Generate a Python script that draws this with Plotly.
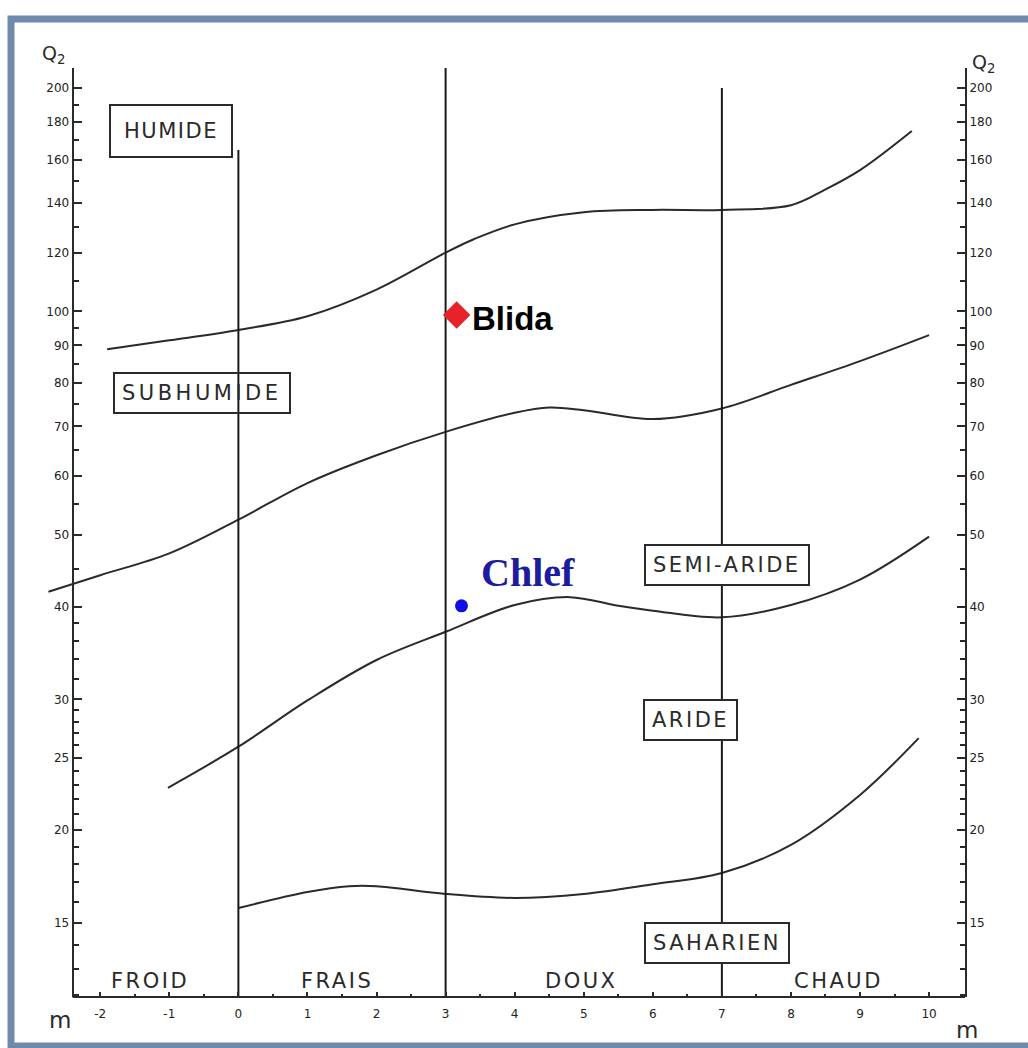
import math
import plotly.graph_objects as go

# Emberger climagram: Q2 (log scale) versus m, mean minimum of the coldest month (°C)

# bioclimatic boundary curves
humide_x = [-1.9, -1, 0, 1, 2, 3, 3.4, 4, 5, 6, 7, 8, 8.5, 9, 9.75]
humide_y = [88.9, 91.4, 94.4, 98.5, 107, 120, 125, 131, 136, 137, 137, 139, 146, 155, 175]

subhumide_x = [-2.75, -2, -1, 0, 1, 2, 3, 4, 4.5, 5, 6, 7, 8, 9, 10]
subhumide_y = [41.9, 44.1, 47.2, 52.4, 58.7, 64, 68.8, 73, 74.2, 73.6, 71.6, 74, 79.6, 85.7, 92.9]

semiaride_x = [-1.02, 0, 1, 2, 3, 4, 4.8, 5.5, 6, 7, 8, 9, 10]
semiaride_y = [22.8, 25.9, 29.9, 33.9, 37, 40.2, 41.2, 40.1, 39.5, 38.7, 40.2, 43.5, 49.7]

aride_x = [0, 1, 1.6, 2, 3, 4, 5, 6, 7, 8, 9, 9.85]
aride_y = [15.7, 16.5, 16.8, 16.8, 16.4, 16.2, 16.4, 16.9, 17.5, 19.1, 22.3, 26.6]

# thermal variant limits (m) and how high each line is drawn
variant_m = [0, 3, 7]
variant_top = [165, 213, 200]

# stations
stations = ["Blida", "Chlef"]
station_m = [3.16, 3.23]
station_q2 = [98.9, 40.1]

# zone labels
zone_names = ["HUMIDE", "SUBHUMIDE", "SEMI-ARIDE", "ARIDE", "SAHARIEN"]
zone_m = [-0.98, -0.52, 7.07, 6.54, 6.93]
zone_q2 = [175, 77.6, 45.5, 28.1, 14.1]
zone_bg = ["white", "rgba(0,0,0,0)", "white", "white", "white"]
zone_spacing = [1.5, 3.5, 2.5, 2.5, 2.5]

variant_names = ["FROID", "FRAIS", "DOUX", "CHAUD"]
variant_label_m = [-1.28, 1.43, 4.96, 8.69]
variant_label_q2 = 12.5

q2_ticks = [15, 20, 25, 30, 40, 50, 60, 70, 80, 90, 100, 120, 140, 160, 180, 200]
q2_minor = ([v for v in range(11, 30) if v not in (15, 20, 25)]
            + [32, 34, 36, 38, 45, 55, 65, 75, 85, 95, 110, 130, 150, 170, 190])
m_ticks = list(range(-2, 11))

X_RANGE = [-2.8, 10.52]
Y_AXIS_AT = -2.4
Y_RANGE = [1.076, 2.328]
y_bottom = 10 ** Y_RANGE[0]

INK = "#2a2a2a"
LABEL_FONT = "DejaVu Sans"

L, R, T, B = 45, 63, 68, 51
W, H = 1028, 1048
pw, ph = W - L - R, H - T - B


def px_to_paper_x(px):
    return (px - L) / pw


def px_to_paper_y(py):
    return (H - B - py) / ph


fig = go.Figure()

for xs, ys in [(humide_x, humide_y), (subhumide_x, subhumide_y),
               (semiaride_x, semiaride_y), (aride_x, aride_y)]:
    fig.add_trace(go.Scatter(x=xs, y=ys, mode="lines",
                             line=dict(color=INK, width=2, shape="spline", smoothing=1.0),
                             hoverinfo="skip", showlegend=False))

for m, top in zip(variant_m, variant_top):
    fig.add_trace(go.Scatter(x=[m, m], y=[y_bottom, top], mode="lines",
                             line=dict(color="#1a1a1a", width=2),
                             hoverinfo="skip", showlegend=False))

# station markers
fig.add_trace(go.Scatter(x=[station_m[0]], y=[station_q2[0]], mode="markers",
                         marker=dict(symbol="diamond", size=19, color="#e8222a",
                                     line=dict(color="#e8222a", width=2)),
                         showlegend=False, name=stations[0]))
fig.add_trace(go.Scatter(x=[station_m[1]], y=[station_q2[1]], mode="markers",
                         marker=dict(symbol="circle", size=13, color="#1010e6"),
                         showlegend=False, name=stations[1]))

# empty trace so the right-hand Q2 axis is drawn
fig.add_trace(go.Scatter(x=[None], y=[None], yaxis="y2", showlegend=False, hoverinfo="skip"))


def spaced(text, px):
    return f'<span style="letter-spacing:{px}px">{text}</span>'


annotations = []
for name, m, q, bg, sp in zip(zone_names, zone_m, zone_q2, zone_bg, zone_spacing):
    pad = 13 if name == "HUMIDE" else 7
    annotations.append(dict(x=m, y=math.log10(q), xref="x", yref="y", text=spaced(name, sp),
                            showarrow=False, font=dict(family=LABEL_FONT, size=21, color=INK),
                            bordercolor=INK, borderwidth=2, borderpad=pad, bgcolor=bg))
for name, m in zip(variant_names, variant_label_m):
    annotations.append(dict(x=m, y=math.log10(variant_label_q2), xref="x", yref="y",
                            text=spaced(name, 2.5), showarrow=False,
                            font=dict(family=LABEL_FONT, size=21, color=INK)))

annotations.append(dict(x=station_m[0] + 0.2, y=math.log10(station_q2[0]), xref="x", yref="y",
                        text="<b>Blida</b>", showarrow=False, xanchor="left", yshift=-4,
                        font=dict(family="Liberation Sans", size=33, color="black")))
annotations.append(dict(x=station_m[1] + 0.25, y=math.log10(station_q2[1]), xref="x", yref="y",
                        text="<b>Chlef</b>", showarrow=False, xanchor="left", yshift=33,
                        font=dict(family="Liberation Serif", size=40, color="#1c1ca0")))

# axis titles: Q2 above both vertical axes, m at both ends of the horizontal axis
for px, py in [(53, 55), (983, 64)]:
    annotations.append(dict(x=px_to_paper_x(px), y=px_to_paper_y(py), xref="paper", yref="paper",
                            text="Q<sub>2</sub>", showarrow=False, xanchor="center",
                            yanchor="middle", font=dict(family=LABEL_FONT, size=19, color=INK)))
for px, py in [(60, 1020), (967, 1030)]:
    annotations.append(dict(x=px_to_paper_x(px), y=px_to_paper_y(py), xref="paper", yref="paper",
                            text="m", showarrow=False, xanchor="center", yanchor="middle",
                            font=dict(family=LABEL_FONT, size=23, color=INK)))

y_axis_pos = (Y_AXIS_AT - X_RANGE[0]) / (X_RANGE[1] - X_RANGE[0])

shapes = [
    # bottom m axis line, from the left Q2 axis to the right one
    dict(type="line", xref="x", yref="y domain", x0=Y_AXIS_AT, x1=X_RANGE[1], y0=0, y1=0,
         line=dict(color=INK, width=2)),
    # outer frame
    dict(type="rect", xref="paper", yref="paper",
         x0=px_to_paper_x(11), x1=px_to_paper_x(1040),
         y0=px_to_paper_y(1046), y1=px_to_paper_y(19),
         line=dict(color="#7189ab", width=7), fillcolor="rgba(0,0,0,0)", layer="below"),
]

tickfont = dict(family=LABEL_FONT, size=12, color="#222222")

fig.update_layout(
    width=W, height=H,
    margin=dict(l=L, r=R, t=T, b=B),
    paper_bgcolor="white", plot_bgcolor="white",
    showlegend=False,
    annotations=annotations,
    shapes=shapes,
    xaxis=dict(range=X_RANGE, domain=[0, 1], showgrid=False, zeroline=False, showline=False,
               tickmode="array", tickvals=m_ticks, ticktext=[str(v) for v in m_ticks],
               ticks="inside", ticklen=5, tickwidth=2, tickcolor=INK, tickfont=tickfont,
               ticklabelstandoff=8,
               minor=dict(tickvals=[v + 0.5 for v in m_ticks[:-1]], ticks="inside",
                          ticklen=3, tickwidth=2, tickcolor=INK)),
    yaxis=dict(type="log", range=Y_RANGE, anchor="free", position=y_axis_pos,
               showgrid=False, zeroline=False, showline=True, linecolor=INK, linewidth=2,
               tickmode="array", tickvals=q2_ticks, ticktext=[str(v) for v in q2_ticks],
               ticks="inside", ticklen=8, tickwidth=2, tickcolor=INK, tickfont=tickfont,
               minor=dict(tickvals=q2_minor, ticks="inside", ticklen=5, tickwidth=1.5,
                          tickcolor=INK)),
    yaxis2=dict(type="log", range=Y_RANGE, overlaying="y", side="right", anchor="x",
                showgrid=False, zeroline=False, showline=True, linecolor=INK, linewidth=2,
                tickmode="array", tickvals=q2_ticks, ticktext=[str(v) for v in q2_ticks],
                ticks="inside", ticklen=8, tickwidth=2, tickcolor=INK, tickfont=tickfont,
                minor=dict(tickvals=q2_minor, ticks="inside", ticklen=5, tickwidth=1.5,
                           tickcolor=INK)),
)

fig.write_html("out.html")
